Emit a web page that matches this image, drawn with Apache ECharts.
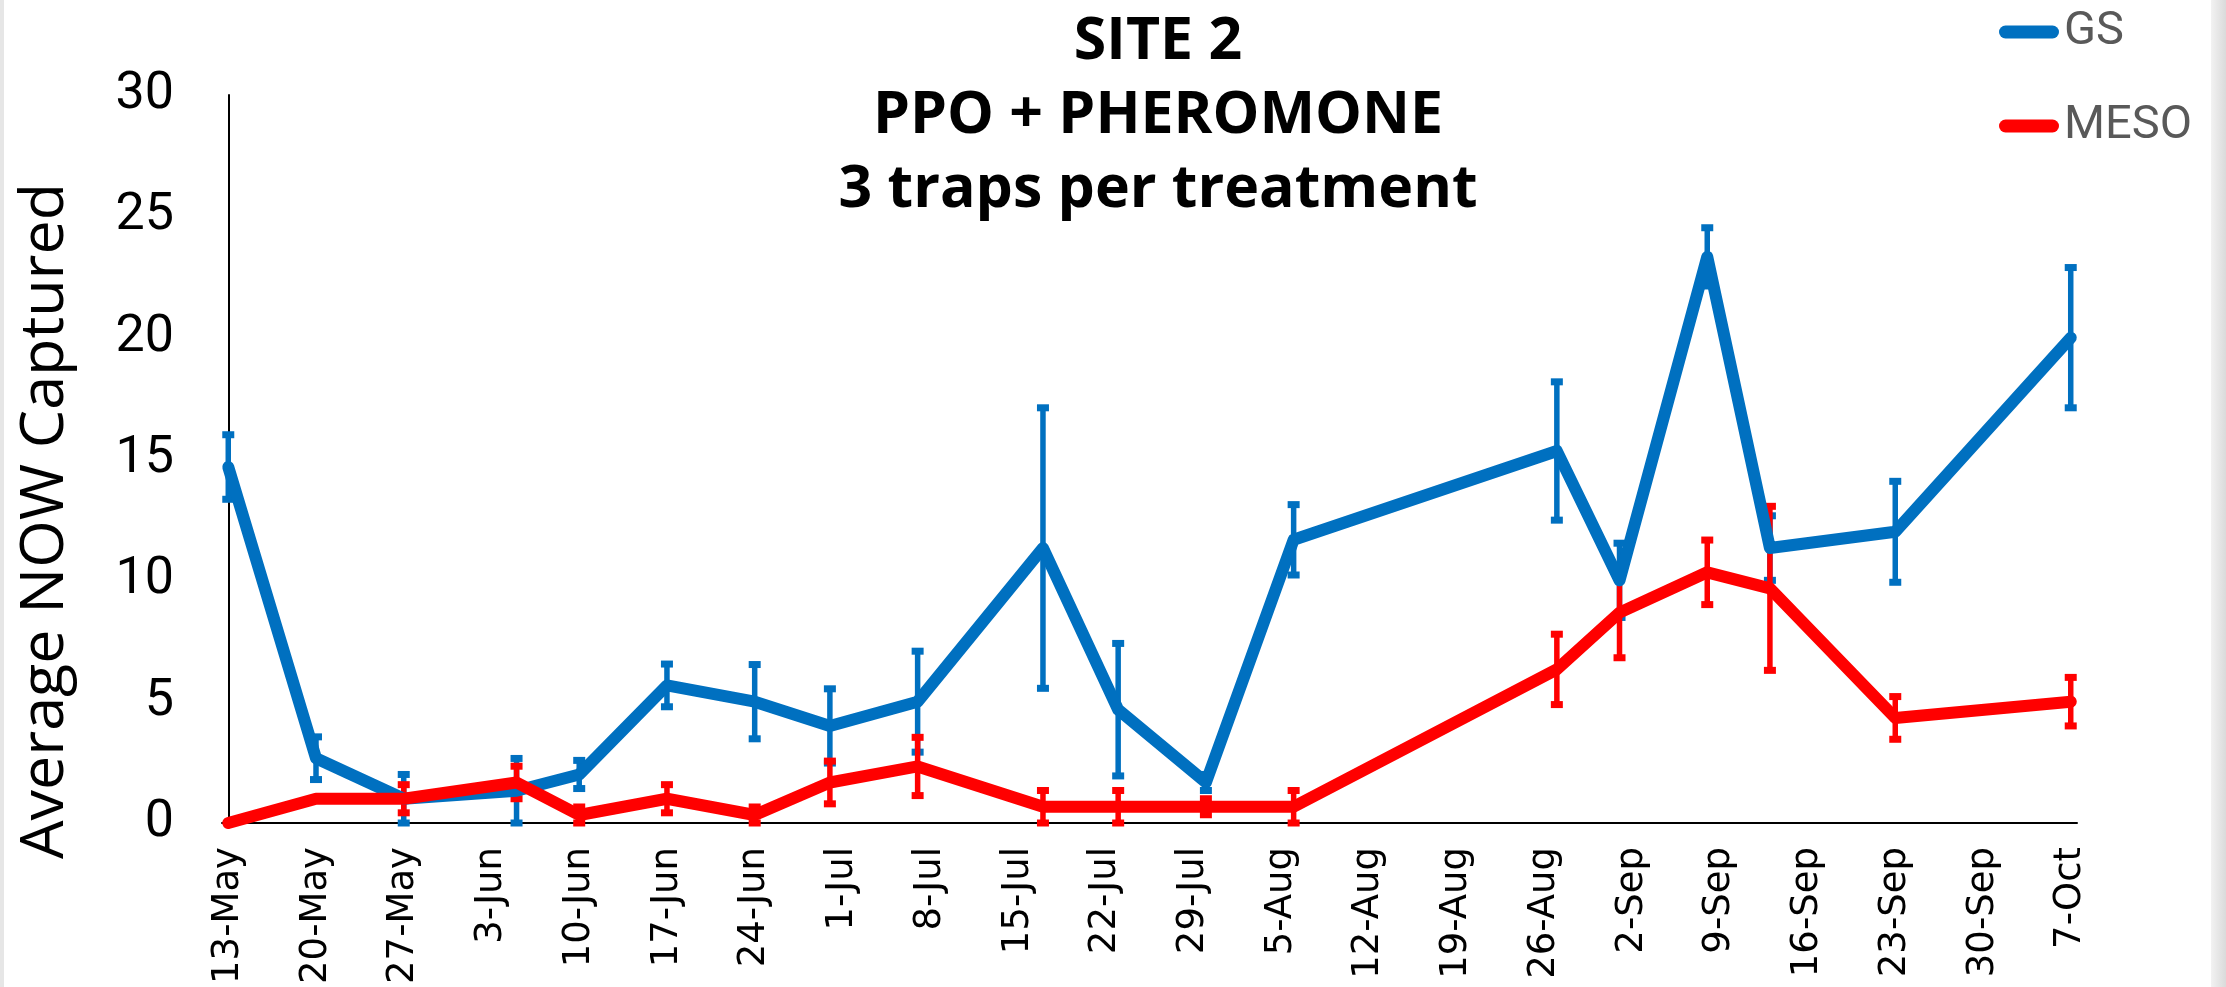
<!DOCTYPE html>
<html lang="en">
<head>
<meta charset="UTF-8">
<title>SITE 2 - PPO + PHEROMONE</title>
<script src="https://cdn.jsdelivr.net/npm/echarts@6/dist/echarts.min.js"></script>
<style>
  * { margin: 0; padding: 0; }
  html, body { width: 2226px; height: 987px; background: #fff; overflow: hidden; }
  #main { width: 2226px; height: 987px; }
</style>
</head>
<body>
<div id="main"></div>
<script>
  // trap check dates and weekly axis labels
  var year = 2019;
  var sampleDates = ['13-May', '20-May', '27-May', '5-Jun', '10-Jun', '17-Jun', '24-Jun', '30-Jun', '7-Jul',
    '17-Jul', '23-Jul', '30-Jul', '6-Aug', '27-Aug', '1-Sep', '8-Sep', '13-Sep', '23-Sep', '7-Oct'];
  var tickLabels = ['13-May', '20-May', '27-May', '3-Jun', '10-Jun', '17-Jun', '24-Jun', '1-Jul', '8-Jul', '15-Jul',
    '22-Jul', '29-Jul', '5-Aug', '12-Aug', '19-Aug', '26-Aug', '2-Sep', '9-Sep', '16-Sep', '23-Sep', '30-Sep', '7-Oct'];

  // average NOW captured (3 traps) and standard error
  var gsMean = [14.67, 2.67, 1.0, 1.33, 2.0, 5.67, 5.0, 4.0, 5.0, 11.33, 4.67, 1.67, 11.67, 15.33, 10.0, 23.33, 11.33, 12.0, 20.0];
  var gsErr = [1.33, 0.88, 1.0, 1.33, 0.58, 0.88, 1.53, 1.53, 2.08, 5.78, 2.73, 0.33, 1.45, 2.85, 1.53, 1.2, 1.33, 2.08, 2.89];
  var mesoMean = [0, 1.0, 1.0, 1.67, 0.33, 1.0, 0.33, 1.67, 2.33, 0.67, 0.67, 0.67, 0.67, 6.33, 8.67, 10.33, 9.67, 4.33, 5.0];
  var mesoErr = [0, 0, 0.58, 0.67, 0.33, 0.58, 0.33, 0.88, 1.2, 0.67, 0.67, 0.33, 0.67, 1.45, 1.86, 1.33, 3.38, 0.88, 1.0];

  var MONTHS = ['Jan', 'Feb', 'Mar', 'Apr', 'May', 'Jun', 'Jul', 'Aug', 'Sep', 'Oct', 'Nov', 'Dec'];
  var DAY = 24 * 3600 * 1000;

  // days since the first trap check (x axis is in days)
  function toDay(s) {
    var p = s.split('-');
    var t = Date.UTC(year, MONTHS.indexOf(p[1]), +p[0]);
    var p0 = tickLabels[0].split('-');
    var t0 = Date.UTC(year, MONTHS.indexOf(p0[1]), +p0[0]);
    return Math.round((t - t0) / DAY);
  }

  var days = sampleDates.map(toDay);
  var tickDays = tickLabels.map(toDay);

  function lineData(mean) {
    return days.map(function (d, i) { return [d, mean[i]]; });
  }
  function barData(mean, err) {
    var out = [];
    days.forEach(function (d, i) {
      if (err[i] > 0) out.push([d, mean[i] - err[i], mean[i] + err[i]]);
    });
    return out;
  }

  // vertical error bar with small square end caps
  function errorBar(color) {
    return function (params, api) {
      var x = api.value(0);
      var lo = api.coord([x, api.value(1)]);
      var hi = api.coord([x, api.value(2)]);
      var cw = 12, ch = 7;
      return {
        type: 'group',
        children: [
          { type: 'line', shape: { x1: hi[0], y1: hi[1], x2: lo[0], y2: lo[1] }, style: { stroke: color, lineWidth: 5.5 } },
          { type: 'rect', shape: { x: hi[0] - cw / 2, y: hi[1] - ch / 2, width: cw, height: ch }, style: { fill: color } },
          { type: 'rect', shape: { x: lo[0] - cw / 2, y: lo[1] - ch / 2, width: cw, height: ch }, style: { fill: color } }
        ]
      };
    };
  }

  var BLUE = '#0070C0';
  var RED = '#FF0000';
  var pill = 'path://M6.5,0 H53.5 A6.5,6.5 0 0 1 53.5,13 H6.5 A6.5,6.5 0 0 1 6.5,0 Z';

  var myChart = echarts.init(document.getElementById('main'));
  var option = {
    animation: false,
    backgroundColor: '#fff',
    title: {
      text: 'SITE 2\nPPO + PHEROMONE\n3 traps per treatment',
      left: 1153,
      top: 0,
      textAlign: 'center',
      textStyle: {
        fontFamily: 'Open Sans',
        fontWeight: 'bold',
        fontSize: 59,
        lineHeight: 74,
        color: '#000'
      }
    },
    legend: {
      data: ['GS', 'MESO'],
      orient: 'vertical',
      left: 1994,
      top: 1,
      itemWidth: 60,
      itemHeight: 13,
      itemGap: 42,
      icon: pill,
      selectedMode: false,
      textStyle: {
        fontFamily: 'Roboto',
        fontSize: 47,
        lineHeight: 52,
        color: '#595959'
      }
    },
    grid: { left: 222, right: 149, top: 95, bottom: 164, outerBoundsMode: 'none' },
    xAxis: {
      type: 'value',
      min: tickDays[0] - 0.5,
      max: tickDays[tickDays.length - 1] + 0.5,
      splitLine: { show: false },
      axisLine: { onZero: false, lineStyle: { color: '#000', width: 2 } },
      axisTick: { show: false },
      axisLabel: {
        customValues: tickDays,
        rotate: 90,
        margin: 24,
        fontFamily: 'DejaVu Sans',
        fontSize: 37,
        color: '#000',
        formatter: function (v) {
          var i = tickDays.indexOf(Math.round(v));
          return i >= 0 ? tickLabels[i] : '';
        }
      }
    },
    yAxis: {
      type: 'value',
      min: 0,
      max: 30,
      interval: 5,
      name: 'Average NOW Captured',
      nameLocation: 'middle',
      nameGap: 146,
      nameTextStyle: { fontFamily: 'Open Sans', fontSize: 61, color: '#000', padding: [0, 124, 0, 0] },
      splitLine: { show: false },
      axisLine: { show: true, lineStyle: { color: '#000', width: 2 } },
      axisTick: { show: false },
      axisLabel: {
        margin: 48,
        fontFamily: 'Roboto',
        fontSize: 52,
        color: '#000'
      }
    },
    series: [
      { type: 'custom', name: 'GS err', z: 1, renderItem: errorBar(BLUE), data: barData(gsMean, gsErr), encode: { x: 0, y: [1, 2] } },
      { type: 'custom', name: 'MESO err', z: 2, renderItem: errorBar(RED), data: barData(mesoMean, mesoErr), encode: { x: 0, y: [1, 2] } },
      {
        type: 'line', name: 'GS', z: 3, color: BLUE, showSymbol: false, symbol: 'none',
        lineStyle: { width: 12, color: BLUE, cap: 'round', join: 'round' },
        data: lineData(gsMean)
      },
      {
        type: 'line', name: 'MESO', z: 4, color: RED, showSymbol: false, symbol: 'none',
        lineStyle: { width: 12, color: RED, cap: 'round', join: 'round' },
        data: lineData(mesoMean)
      }
    ],
    graphic: [
      { type: 'rect', left: 0, top: 0, shape: { width: 4, height: 987 }, style: { fill: '#e6e6e6' }, silent: true },
      {
        type: 'rect', left: 2211, top: 0, shape: { width: 15, height: 987 }, silent: true,
        style: { fill: new echarts.graphic.LinearGradient(0, 0, 1, 0, [{ offset: 0, color: '#f2f2f2' }, { offset: 1, color: '#dadada' }]) }
      }
    ]
  };
  myChart.setOption(option);
</script>
</body>
</html>
